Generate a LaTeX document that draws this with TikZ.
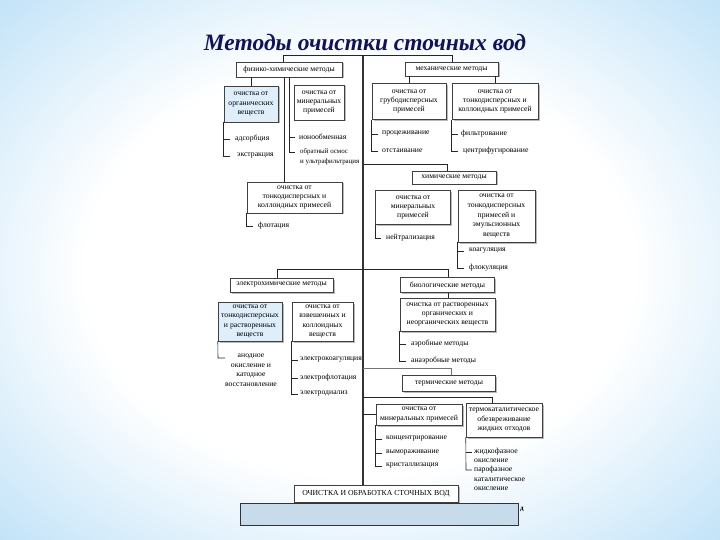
\documentclass[tikz,border=0pt]{standalone}
\usepackage{fontspec}
\setmainfont{Liberation Serif}
\usetikzlibrary{shadows}
\definecolor{bgA}{RGB}{192,226,248}
\definecolor{bgB}{RGB}{150,204,242}
\definecolor{bgC}{RGB}{104,180,235}
\definecolor{titlec}{RGB}{18,18,92}
\definecolor{lbfill}{RGB}{222,239,251}
\definecolor{bandfill}{RGB}{200,219,235}
\pgfdeclareradialshading{bgshade}{\pgfpoint{0bp}{0bp}}{color(0bp)=(white); color(19bp)=(white); color(36bp)=(bgA); color(50bp)=(bgB); color(72bp)=(bgC)}
\newcommand{\bxfont}{\fontsize{7.7}{9.3}\selectfont}
\begin{document}
\begin{tikzpicture}[x=1pt,y=-1pt,
  box/.style={draw=black!75, line width=0.5pt, fill=white, align=center, inner sep=0pt, font=\bxfont,
    drop shadow={shadow xshift=1.5pt, shadow yshift=-1.5pt, fill=black!45, opacity=0.6}},
  lbox/.style={box, fill=lbfill},
  item/.style={anchor=west, inner sep=0pt, font=\bxfont},
  mitem/.style={anchor=west, inner sep=0pt, font=\bxfont, align=left},
  link/.style={draw=black!85, line width=0.6pt},
  trunk/.style={draw=black!80, line width=1.8pt}]
\shade[shading=bgshade] (0,0) rectangle (720,540);
\useasboundingbox (0,0) rectangle (720,540);

% title
\node[font=\fontsize{23.5}{25}\selectfont\bfseries\itshape, text=titlec] (title) at (365,42) {Методы очистки сточных вод};

% level 1 top
\node[box, minimum width=106pt, minimum height=15pt] (pc) at (289,69.5) {физико-химические методы};
\node[box, minimum width=93pt, minimum height=14pt] (mech) at (451.5,69) {механические методы};

\node[lbox, minimum width=54pt, minimum height=36pt] (org) at (251,104) {очистка от\\органических\\веществ};
\node[box, minimum width=50pt, minimum height=35pt] (pcmin) at (319,102.5) {очистка от\\минеральных\\примесей};
\node[box, minimum width=74pt, minimum height=36pt] (mg) at (409,101.5) {очистка от\\грубодисперсных\\примесей};
\node[box, minimum width=86pt, minimum height=36pt] (mt) at (495,101.5) {очистка от\\тонкодисперсных и\\коллоидных примесей};

\node[box, minimum width=95pt, minimum height=31pt] (flot) at (294.5,197.5) {очистка от\\тонкодисперсных и\\коллоидных примесей};

\node[box, minimum width=84pt, minimum height=13pt] (chem) at (454,177.5) {химические методы};
\node[box, minimum width=75pt, minimum height=34pt] (chmin) at (413,207.5) {очистка от\\минеральных\\примесей};
\node[box, minimum width=77pt, minimum height=52pt, font=\fontsize{7.7}{9.6}\selectfont] (chtonk) at (496.5,216) {очистка от\\тонкодисперсных\\примесей и\\эмульсионных\\веществ};

\node[box, minimum width=103pt, minimum height=14pt] (elec) at (281.5,285) {электрохимические методы};
\node[lbox, minimum width=64pt, minimum height=39pt] (eltonk) at (250,321.5) {очистка от\\тонкодисперсных\\и растворенных\\веществ};
\node[box, minimum width=61pt, minimum height=39pt] (elvzv) at (322.5,321.5) {очистка от\\взвешенных и\\коллоидных\\веществ};

\node[box, minimum width=94pt, minimum height=15pt] (bio) at (447.5,285) {биологические методы};
\node[box, minimum width=95pt, minimum height=33pt] (bioc) at (447.5,314.5) {очистка от растворенных\\органических и\\неорганических веществ};

\node[box, minimum width=93pt, minimum height=16pt] (therm) at (449,383.5) {термические методы};

\node[box, minimum width=86pt, minimum height=21pt] (bmin) at (419,414.5) {очистка от\\минеральных примесей};
\node[box, minimum width=76pt, minimum height=34pt] (tcat) at (504,420) {термокаталитическое\\обезвреживание\\жидких отходов};

\node[box, minimum width=164pt, minimum height=17pt] (bot) at (376,493.5) {ОЧИСТКА И ОБРАБОТКА СТОЧНЫХ ВОД};

% bottom band
\draw[draw=black!80, line width=0.8pt, fill=bandfill] (240,503) rectangle (518,525);
\node[inner sep=0pt, font=\fontsize{7}{8}\selectfont\bfseries] (dd) at (522,509) {д};

% trunk and top bar
\coordinate (T) at (363,55);
\coordinate (TL) at (283,55);
\coordinate (TR) at (452,55);
\draw[trunk] (T) -- (T |- bot.north);
\draw[link] (TL |- pc.north) -- (TL) -- (TR) -- (TR |- mech.north);

% physico-chemical branch
\draw[link] (org.north |- pc.south) -- (org.north);
\coordinate (pcA) at (284,0);
\coordinate (pcB) at (289,0);
\draw[link] (pcA |- pc.south) -- (pcA |- flot.north);
\node[item] (ion) at (299,137) {ионообменная};
\node[mitem, anchor=north west, font=\fontsize{6.9}{9.6}\selectfont] (osm) at (300,148.5) {обратный осмос\\и ультрафильтрация};
\draw[link] (pcB |- pc.south) -- (289,152) -- ++(6,0);
\draw[link] (pcB |- ion.west) -- ++(6,0);

\node[item] (ads) at (235,139) {адсорбция};
\node[item] (ext) at (237,156) {экстракция};
\draw[link] (org.south west) -- (org.south west |- ext.west) -- ++(6,0);
\draw[link] (org.south west |- ads.west) -- ++(6,0);

\node[item] (flt) at (258,226) {флотация};
\draw[link] (flot.south west) -- (flot.south west |- flt.west) -- ++(6,0);

% mechanical branch
\draw[link] (mg.north |- mech.south) -- (mg.north);
\draw[link] (mt.north |- mech.south) -- (mt.north);
\node[item] (proc) at (382,134) {процеживание};
\node[item] (otst) at (382,151) {отстаивание};
\draw[link] (mg.south west) -- (mg.south west |- otst.west) -- ++(6,0);
\draw[link] (mg.south west |- proc.west) -- ++(6,0);
\node[item] (filt) at (461,134) {фильтрование};
\node[item] (centr) at (463,151) {центрифугирование};
\draw[link] (mt.south west) -- (mt.south west |- centr.west) -- ++(6,0);
\draw[link] (mt.south west |- filt.west) -- ++(6,0);

% chemical branch
\coordinate (C1) at (447,164);
\draw[link] (T |- C1) -- (C1) -- (C1 |- chem.north);
\node[item] (neut) at (386,238) {нейтрализация};
\draw[link] (chmin.south west) -- (chmin.south west |- neut.west) -- ++(6,0);
\node[item] (koag) at (469,251) {коагуляция};
\node[item] (flok) at (469,268) {флокуляция};
\draw[link] (chtonk.south west) -- (chtonk.south west |- flok.west) -- ++(6,0);
\draw[link] (chtonk.south west |- koag.west) -- ++(6,0);

% electro / bio crossbar
\coordinate (E1) at (277,269);
\coordinate (B1) at (448,269);
\draw[link] (E1 |- elec.north) -- (E1) -- (B1) -- (B1 |- bio.north);
\draw[link] (B1 |- bio.south) -- (B1 |- bioc.north);

\node[font=\fontsize{7.7}{9.5}\selectfont, align=center, inner sep=0pt, anchor=north] (anod) at (251,354) {анодное\\окисление и\\катодное\\восстановление};
\draw[link] (eltonk.south west) -- (218,358) -- ++(7,0);

\node[item] (ek) at (300,360) {электрокоагуляция};
\node[item] (ef) at (300,378) {электрофлотация};
\node[item] (ed) at (300,394) {электродиализ};
\draw[link] (elvzv.south west) -- (elvzv.south west |- ed.west) -- ++(6,0);
\draw[link] (elvzv.south west |- ek.west) -- ++(6,0);
\draw[link] (elvzv.south west |- ef.west) -- ++(6,0);

\node[item] (aer) at (411,344) {аэробные методы};
\node[item] (anaer) at (411,361) {анаэробные методы};
\draw[link] (bioc.south west) -- (bioc.south west |- anaer.west) -- ++(6,0);
\draw[link] (bioc.south west |- aer.west) -- ++(6,0);

% thermal
\coordinate (H1) at (451,368.5);
\draw[link, draw=black!55] (T |- H1) -- (H1) -- (H1 |- therm.north);

% bottom branches
\coordinate (K1) at (492,397);
\draw[link] (T |- K1) -- (K1) -- (K1 |- tcat.north);
\draw[link] (T |- bmin.west) -- (bmin.west);
\node[item] (konc) at (386,439) {концентрирование};
\node[item] (vym) at (386,453) {вымораживание};
\node[item] (kris) at (386,466) {кристаллизация};
\draw[link] (bmin.south west) -- (bmin.south west |- kris.west) -- ++(6,0);
\draw[link] (bmin.south west |- konc.west) -- ++(6,0);
\draw[link] (bmin.south west |- vym.west) -- ++(6,0);

\node[mitem, anchor=north west, font=\fontsize{7.7}{9}\selectfont] (zhf) at (474,448) {жидкофазное\\окисление};
\node[mitem, anchor=north west, font=\fontsize{7.7}{9.5}\selectfont] (parf) at (474,466) {парофазное\\каталитическое\\окисление};
\draw[link] (tcat.south west) -- (466,470) -- ++(6,0);
\draw[link] (466,452) -- ++(6,0);
\end{tikzpicture}
\end{document}
